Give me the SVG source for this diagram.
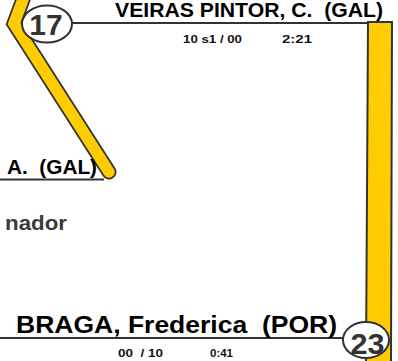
<svg xmlns="http://www.w3.org/2000/svg" width="398" height="361" viewBox="0 0 398 361">
<style>
text{white-space:pre}
.lbl{font-family:"Liberation Sans",Arial,sans-serif;font-weight:bold;fill:#000}
.sm{font-family:"Liberation Sans",Arial,sans-serif;font-weight:bold;font-size:11.5px;fill:#111}
.num{font-family:"Liberation Sans",Arial,sans-serif;font-weight:bold;fill:#333;text-anchor:middle}
.ln{stroke:#333;stroke-width:2;fill:none}
.bandO{stroke:#333;fill:none;stroke-linejoin:miter;stroke-linecap:round}
.bandI{stroke:#FFCC00;fill:none;stroke-linejoin:miter;stroke-linecap:round}
.badge{fill:#fff;stroke:#333;stroke-width:2}
</style>
<rect width="398" height="361" fill="#fff"/>
<g id="connectors">
  <polyline class="bandO" stroke-width="15" points="25,-6 14,23.5 109,172"/>
  <polyline class="bandI" stroke-width="11.5" points="25,-6 14,23.5 109,172"/>
  <line class="ln" x1="0" y1="179.5" x2="104" y2="179.5"/>
  <line class="ln" x1="72" y1="23" x2="368" y2="23"/>
  <polygon points="368,22 392,22 391,362 366,362" fill="#FFCC00" stroke="#333" stroke-width="2"/>
  <line class="ln" x1="0" y1="338" x2="344" y2="338"/>
</g>
<g id="node-17">
  <ellipse class="badge" cx="47" cy="24" rx="25" ry="18.5"/>
  <text class="num" x="46" y="35" font-size="30">17</text>
</g>
<g id="label-veiras">
  <text class="lbl" x="115" y="17" font-size="19.5" textLength="268" lengthAdjust="spacingAndGlyphs">VEIRAS PINTOR, C.  (GAL)</text>
  <text class="sm" x="183" y="43" textLength="59" lengthAdjust="spacingAndGlyphs">10 s1 / 00</text>
  <text class="sm" x="282" y="43" textLength="30" lengthAdjust="spacingAndGlyphs">2:21</text>
</g>
<g id="label-gal">
  <text class="lbl" x="7" y="174" font-size="20" textLength="90" lengthAdjust="spacingAndGlyphs">A.  (GAL)</text>
</g>
<g id="label-nador">
  <text x="5" y="230" font-family="Liberation Sans, Arial, sans-serif" font-weight="bold" font-size="21" fill="#3a3a3a" textLength="62" lengthAdjust="spacingAndGlyphs">nador</text>
</g>
<g id="node-23">
  <ellipse class="badge" cx="366" cy="340" rx="23" ry="18"/>
  <text class="num" x="367.5" y="354" font-size="30" textLength="34" lengthAdjust="spacingAndGlyphs">23</text>
</g>
<g id="label-braga">
  <text class="lbl" x="16" y="333" font-size="23.5" textLength="321" lengthAdjust="spacingAndGlyphs">BRAGA, Frederica  (POR)</text>
  <text class="sm" x="118" y="357" textLength="45" lengthAdjust="spacingAndGlyphs">00  / 10</text>
  <text class="sm" x="210" y="357" textLength="23" lengthAdjust="spacingAndGlyphs">0:41</text>
</g>
</svg>
